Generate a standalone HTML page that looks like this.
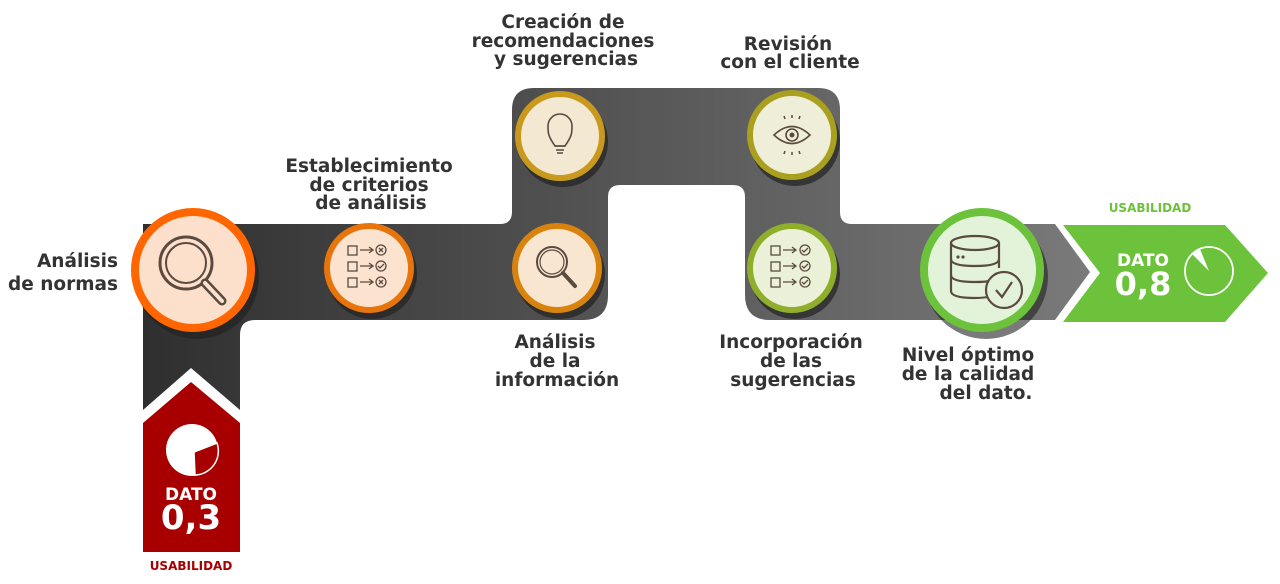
<!DOCTYPE html>
<html><head><meta charset="utf-8"><style>
html,body{margin:0;padding:0;background:#fff;width:1280px;height:584px;overflow:hidden}
text{font-family:"DejaVu Sans","Liberation Sans",sans-serif;font-weight:bold}
</style></head><body>
<svg width="1280" height="584" viewBox="0 0 1280 584" xmlns="http://www.w3.org/2000/svg">
<defs>
<linearGradient id="g" x1="143" y1="0" x2="1090" y2="0" gradientUnits="userSpaceOnUse">
<stop offset="0" stop-color="#2f2f2f"/><stop offset="0.5" stop-color="#555"/><stop offset="1" stop-color="#7a7a7a"/>
</linearGradient>
</defs>
<path fill="url(#g)" d="M143,410 L143,224 L500,224 Q512,224 512,212 L512,110 Q512,88 534,88 L818,88 Q840,88 840,110 L840,212 Q840,224 852,224 L1055,224 L1090,272 L1055,320 L770,320 Q745,320 745,295 L745,197 Q745,185 733,185 L620,185 Q608,185 608,197 L608,295 Q608,320 583,320 L255,320 Q240,320 240,335 L240,410 Z"/>
<polygon fill="#fff" points="143,410 191,368 240,410 240,584 143,584"/>
<polygon fill="#a80000" points="143,423 191,382 240,423 240,552 143,552"/>
<circle cx="192" cy="450" r="26" fill="#fff"/>
<path d="M194,452 L217,443 A24,24 0 0 1 195,475 Z" fill="#a80000" stroke="#fff" stroke-width="1.5"/>
<text x="191" y="500" fill="#fff" font-size="17" text-anchor="middle">DATO</text>
<text x="191" y="529" fill="#fff" font-size="34" text-anchor="middle">0,3</text>
<text x="191" y="570" fill="#a80000" font-size="12" text-anchor="middle">USABILIDAD</text>

<polygon fill="#6cc23b" points="1063,225 1225,225 1268,273 1225,322 1063,322 1100,273"/>
<text x="1143" y="266" fill="#fff" font-size="17" text-anchor="middle">DATO</text>
<text x="1143" y="295" fill="#fff" font-size="32" text-anchor="middle">0,8</text>
<circle cx="1209" cy="271" r="24" fill="none" stroke="#fff" stroke-width="1.8"/>
<path d="M1209,271 L1192,254 A24,24 0 0 1 1200,249 Z" fill="#fff"/>
<text x="1150" y="212" fill="#6cc23b" font-size="12" text-anchor="middle">USABILIDAD</text>

<g>
<circle cx="197" cy="277" r="62" fill="#222" opacity="0.7"/>
<circle cx="193" cy="270" r="58" fill="#fde0cc" stroke="#ff6600" stroke-width="8"/>
<circle cx="186" cy="263" r="26" fill="none" stroke="#5a4a40" stroke-width="3"/>
<circle cx="186" cy="263" r="20" fill="none" stroke="#5a4a40" stroke-width="2"/>
<path d="M205,283 L222,301" stroke="#5a4a40" stroke-width="9" stroke-linecap="round"/>
<path d="M205,283 L222,301" stroke="#fde0cc" stroke-width="4" stroke-linecap="round"/>

<circle cx="372" cy="274" r="45" fill="#222" opacity="0.7"/>
<circle cx="369" cy="268" r="42" fill="#fbe3cf" stroke="#e8740c" stroke-width="6"/>
<g stroke="#5a4a40" stroke-width="1.3" fill="none">
<rect x="348" y="246" width="9" height="9"/><rect x="348" y="262" width="9" height="9"/><rect x="348" y="278" width="9" height="9"/>
<path d="M360,250 H373 M369,247 L373,250 L369,253 M360,266 H373 M369,263 L373,266 L369,269 M360,282 H373 M369,279 L373,282 L369,285"/>
<circle cx="381" cy="250" r="5"/><circle cx="381" cy="266" r="5"/><circle cx="381" cy="282" r="5"/>
<path d="M379,248 L383,252 M383,248 L379,252 M378,266 L380,268 L384,264 M379,280 L383,284 M383,280 L379,284"/>
</g>

<circle cx="560" cy="274" r="45" fill="#222" opacity="0.7"/>
<circle cx="557" cy="268" r="42" fill="#f8e6d0" stroke="#d9830f" stroke-width="6"/>
<circle cx="552" cy="262" r="15" fill="none" stroke="#5a4a40" stroke-width="2"/>
<circle cx="552" cy="262" r="12" fill="none" stroke="#5a4a40" stroke-width="1.2"/>
<path d="M563,273 L575,286" stroke="#5a4a40" stroke-width="4" stroke-linecap="round"/>

<circle cx="563" cy="142" r="45" fill="#222" opacity="0.7"/>
<circle cx="560" cy="136" r="42" fill="#f3e8d2" stroke="#c9991e" stroke-width="6"/>
<path d="M555,146 C548,136 548,133 548,126 A12,12 0 0 1 572,126 C572,133 572,136 565,146 Z" fill="none" stroke="#5a4a40" stroke-width="1.6"/>
<path d="M555,146 H565 M556,150 H564 M557,153 H563" stroke="#5a4a40" stroke-width="1.6"/>

<circle cx="795" cy="141" r="45" fill="#222" opacity="0.7"/>
<circle cx="792" cy="135" r="42" fill="#efeed8" stroke="#a9a020" stroke-width="6"/>
<path d="M774,135 Q792,118 810,135 Q792,152 774,135 Z" fill="none" stroke="#5a4a40" stroke-width="1.6"/>
<circle cx="792" cy="135" r="6" fill="none" stroke="#5a4a40" stroke-width="1.6"/>
<circle cx="792" cy="135" r="2.5" fill="#5a4a40"/>
<path d="M785,119 l-1,-3 M792,118 v-3 M799,119 l1,-3 M785,151 l-1,3 M792,152 v3 M799,151 l1,3" stroke="#5a4a40" stroke-width="1.5"/>

<circle cx="795" cy="274" r="45" fill="#222" opacity="0.7"/>
<circle cx="792" cy="268" r="42" fill="#ebf0d8" stroke="#8fae2a" stroke-width="6"/>
<g stroke="#5a4a40" stroke-width="1.3" fill="none">
<rect x="771" y="246" width="9" height="9"/><rect x="771" y="262" width="9" height="9"/><rect x="771" y="278" width="9" height="9"/>
<path d="M783,250 H796 M792,247 L796,250 L792,253 M783,266 H796 M792,263 L796,266 L792,269 M783,282 H796 M792,279 L796,282 L792,285"/>
<circle cx="805" cy="250" r="5"/><circle cx="805" cy="266" r="5"/><circle cx="805" cy="282" r="5"/>
<path d="M802,250 L804,252 L808,248 M802,266 L804,268 L808,264 M802,282 L804,284 L808,280"/>
</g>

<circle cx="986" cy="277" r="62" fill="#222" opacity="0.6"/>
<circle cx="982" cy="270" r="58" fill="#e2f3da" stroke="#6cc23b" stroke-width="8"/>
<g stroke="#5a4a40" stroke-width="2.2" fill="none">
<ellipse cx="975" cy="243" rx="24" ry="7"/>
<path d="M951,243 V291 Q951,298 975,298 Q985,298 992,296 M999,243 V268"/>
<path d="M951,259 Q951,266 975,266 Q999,266 999,259 M951,275 Q951,282 975,282 Q985,282 990,281"/>
<circle cx="1004" cy="290" r="18" fill="#e2f3da"/>
<path d="M996,290 L1002,297 L1012,282"/>
</g>
<circle cx="958" cy="257" r="1.6" fill="#5a4a40"/><circle cx="963" cy="257" r="1.6" fill="#5a4a40"/>
</g>

<g fill="#333" font-size="18.5">
<text x="118" y="267" text-anchor="end">Análisis</text>
<text x="118" y="290" text-anchor="end">de normas</text>
<text x="369" y="172" text-anchor="middle">Establecimiento</text>
<text x="369" y="191" text-anchor="middle">de criterios</text>
<text x="371" y="209" text-anchor="middle">de análisis</text>
<text x="563" y="28" text-anchor="middle">Creación de</text>
<text x="563" y="47" text-anchor="middle">recomendaciones</text>
<text x="566" y="65" text-anchor="middle">y sugerencias</text>
<text x="788" y="50" text-anchor="middle">Revisión</text>
<text x="790" y="68" text-anchor="middle">con el cliente</text>
<text x="555" y="348" text-anchor="middle">Análisis</text>
<text x="555" y="367" text-anchor="middle">de la</text>
<text x="557" y="386" text-anchor="middle">información</text>
<text x="791" y="348" text-anchor="middle">Incorporación</text>
<text x="791" y="367" text-anchor="middle">de las</text>
<text x="793" y="386" text-anchor="middle">sugerencias</text>
<text x="968" y="361" text-anchor="middle">Nivel óptimo</text>
<text x="968" y="380" text-anchor="middle">de la calidad</text>
<text x="986" y="399" text-anchor="middle">del dato.</text>
</g>
</svg>
</body></html>
